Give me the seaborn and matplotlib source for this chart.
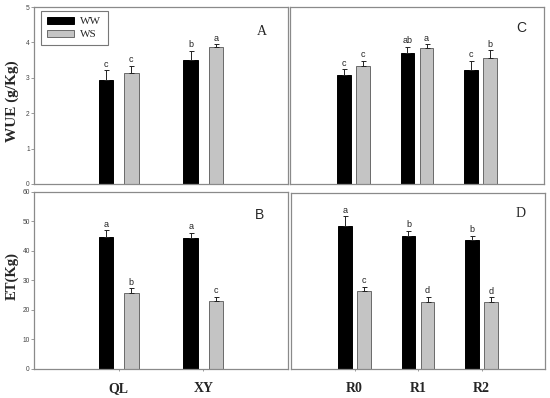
import numpy as np
import pandas as pd
import matplotlib
matplotlib.use("Agg")
import matplotlib.pyplot as plt
import seaborn as sns
from matplotlib.patches import Patch

# ---------------- data ----------------
water = ["WW", "WS"]
sites = ["QL", "XY"]
treatments = ["R0", "R1", "R2"]

# Panel A: WUE by site
wue_site_ww = [2.94, 3.50]
wue_site_ws = [3.14, 3.87]
wue_site_err_ww = [0.27, 0.26]
wue_site_err_ws = [0.19, 0.08]
wue_site_let_ww = ["c", "b"]
wue_site_let_ws = ["c", "a"]

# Panel C: WUE by treatment
wue_trt_ww = [3.07, 3.70, 3.23]
wue_trt_ws = [3.32, 3.83, 3.56]
wue_trt_err_ww = [0.17, 0.18, 0.24]
wue_trt_err_ws = [0.16, 0.12, 0.22]
wue_trt_let_ww = ["c", "ab", "c"]
wue_trt_let_ws = ["c", "a", "b"]

# Panel B: ET by site
et_site_ww = [44.8, 44.4]
et_site_ws = [25.5, 22.9]
et_site_err_ww = [2.2, 1.7]
et_site_err_ws = [1.8, 1.4]
et_site_let_ww = ["a", "a"]
et_site_let_ws = ["b", "c"]

# Panel D: ET by treatment
et_trt_ww = [48.9, 45.2, 43.9]
et_trt_ws = [26.7, 23.0, 22.9]
et_trt_err_ww = [3.2, 1.8, 1.6]
et_trt_err_ws = [1.4, 1.7, 1.5]
et_trt_let_ww = ["a", "b", "b"]
et_trt_let_ws = ["c", "d", "d"]

wue_ticks = [0, 1, 2, 3, 4, 5]
et_ticks = [0, 10, 20, 30, 40, 50, 60]

# ---------------- style ----------------
sns.set_theme(style="white")
plt.rcParams["font.family"] = ["Liberation Sans", "DejaVu Sans"]
SERIF = ["Liberation Serif", "DejaVu Serif"]
SANS = ["Liberation Sans", "DejaVu Sans"]
SPINE = "#8a8a8a"
WW_COL = "#000000"
WS_COL = "#c4c4c4"
WS_EDGE = "#6a6a6a"

W, H = 550, 398
fig = plt.figure(figsize=(5.5, 3.98), dpi=100)
fig.patch.set_facecolor("white")


def axes_px(l, t, r, b):
    return fig.add_axes([l / W, 1 - b / H, (r - l) / W, (b - t) / H])


axA = axes_px(34, 7, 288, 184)
axC = axes_px(290, 7, 544, 184)
axB = axes_px(34, 192, 288, 368.5)
axD = axes_px(291, 193, 545, 369)


def panel(ax, cats, ww, ws, eww, ews, lww, lws, gap, ylim, yticks, show_y, show_x):
    n = len(cats)
    df = pd.DataFrame({
        "cat": cats * 2,
        "water": ["WW"] * n + ["WS"] * n,
        "val": ww + ws,
        "err": eww + ews,
        "lab": lww + lws,
    })
    sns.barplot(data=df, x="cat", y="val", hue="water", order=cats,
                hue_order=water, palette=[WW_COL, WS_COL], width=0.6,
                gap=gap, errorbar=None, legend=False, ax=ax,
                linewidth=0.7, saturation=1)
    for p in ax.patches:
        xc = p.get_x() + p.get_width() / 2
        i = int(round(xc))
        hue = "WW" if xc < i else "WS"
        row = df[(df["cat"] == cats[i]) & (df["water"] == hue)].iloc[0]
        p.set_edgecolor("black" if hue == "WW" else WS_EDGE)
        h = p.get_height()
        ax.errorbar([xc], [h], yerr=[[0], [row["err"]]], fmt="none",
                    ecolor="#222222", elinewidth=0.7, capsize=1.8,
                    capthick=0.7, zorder=3)
        ax.annotate(row["lab"], (xc, h + row["err"]), xytext=(0, 1.2),
                    textcoords="offset points", ha="center", va="bottom",
                    fontsize=6.5, family=SANS, color="#222222")
    ax.set_xlim(-1, n)
    ax.set_ylim(*ylim)
    ax.set_xlabel("")
    ax.set_ylabel("")
    for s in ax.spines.values():
        s.set_visible(True)
        s.set_color(SPINE)
        s.set_linewidth(0.9)
    if show_y:
        ax.set_yticks(yticks)
        ax.set_yticklabels([str(t) for t in yticks], fontsize=4.8,
                           family=SANS, color="#444444")
        ax.tick_params(axis="y", direction="out", length=2, width=0.6,
                       color=SPINE, pad=1, left=True)
    else:
        ax.set_yticks(yticks)
        ax.tick_params(axis="y", left=False, labelleft=False)
    if show_x:
        ax.set_xticks(range(n))
        ax.set_xticklabels(cats, fontsize=10, family=SERIF, fontweight="bold")
        ax.tick_params(axis="x", direction="out", length=1.5, width=0.6,
                       color=SPINE, pad=8, bottom=True)
    else:
        ax.tick_params(axis="x", bottom=False, labelbottom=False)


panel(axA, sites, wue_site_ww, wue_site_ws, wue_site_err_ww, wue_site_err_ws,
      wue_site_let_ww, wue_site_let_ws, 0.43, (0, 5), wue_ticks, True, False)
panel(axC, treatments, wue_trt_ww, wue_trt_ws, wue_trt_err_ww, wue_trt_err_ws,
      wue_trt_let_ww, wue_trt_let_ws, 0.30, (0, 5), wue_ticks, False, False)
panel(axB, sites, et_site_ww, et_site_ws, et_site_err_ww, et_site_err_ws,
      et_site_let_ww, et_site_let_ws, 0.43, (0, 60), et_ticks, True, True)
panel(axD, treatments, et_trt_ww, et_trt_ws, et_trt_err_ww, et_trt_err_ws,
      et_trt_let_ww, et_trt_let_ws, 0.30, (0, 60), et_ticks, False, True)

# panel letters
axA.text(0.898, 0.864, "A", transform=axA.transAxes, ha="center", va="center",
         fontsize=10, family=SERIF)
axC.text(0.909, 0.881, "C", transform=axC.transAxes, ha="center", va="center",
         fontsize=10, family=SANS)
axB.text(0.886, 0.870, "B", transform=axB.transAxes, ha="center", va="center",
         fontsize=10, family=SANS)
axD.text(0.902, 0.886, "D", transform=axD.transAxes, ha="center", va="center",
         fontsize=10, family=SERIF)

# y labels
fig.text(12 / W, 1 - 101 / H, "WUE (g/Kg)", rotation=90, ha="center",
         va="center", fontsize=11, fontweight="bold", family=SERIF)
fig.text(12 / W, 1 - 276 / H, "ET(Kg)", rotation=90, ha="center",
         va="center", fontsize=10.5, fontweight="bold", family=SERIF)

# legend
handles = [Patch(facecolor=WW_COL, edgecolor="black", linewidth=0.7),
           Patch(facecolor=WS_COL, edgecolor=WS_EDGE, linewidth=0.7)]
leg = axA.legend(handles, water, loc="upper left",
                 bbox_to_anchor=(0.0276, 0.977), borderaxespad=0,
                 prop={"family": SERIF, "size": 8}, handlelength=2.4,
                 handleheight=0.5, labelspacing=0.35, handletextpad=0.6,
                 borderpad=0.55, fancybox=False, frameon=True)
leg.get_frame().set_edgecolor("#555555")
leg.get_frame().set_linewidth(0.8)

fig.savefig("out.png", dpi=100, facecolor="white")
